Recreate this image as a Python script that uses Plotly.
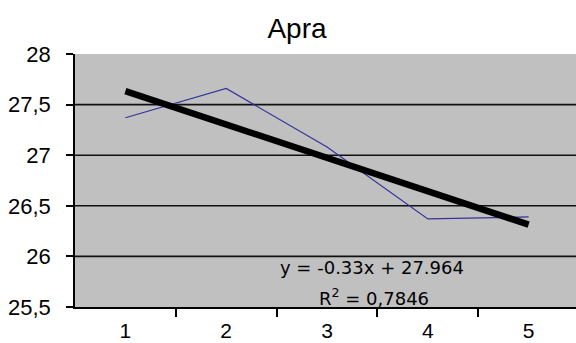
import plotly.graph_objects as go

# Monthly values for "Apra"
periods = [1, 2, 3, 4, 5]
values = [27.37, 27.66, 27.08, 26.37, 26.39]

# Linear trend as reported in the equation label
slope = -0.33
intercept = 27.964
r_squared = "0,7846"

y_ticks = [25.5, 26, 26.5, 27, 27.5, 28]
grid_levels = [26, 26.5, 27, 27.5]
x_labels = ["1", "2", "3", "4", "5"]

trend_y = [slope * x + intercept for x in periods]

W, H = 576, 343
L, T, B = 75, 54, 36

fig = go.Figure()

fig.add_trace(go.Scatter(
    x=periods, y=values, mode="lines",
    line=dict(color="#33339a", width=1.2),
    showlegend=False, hoverinfo="skip",
))

fig.add_trace(go.Scatter(
    x=[periods[0], periods[-1]], y=[trend_y[0], trend_y[-1]], mode="lines",
    line=dict(color="black", width=6.5),
    showlegend=False, hoverinfo="skip",
))

for g in grid_levels:
    fig.add_shape(type="line", xref="paper", x0=0, x1=1, yref="y", y0=g, y1=g,
                  line=dict(color="#111111", width=1.6), layer="below")

label_font = dict(family="Liberation Sans, Arial, sans-serif", size=21, color="black")

fig.update_layout(
    width=W, height=H,
    margin=dict(l=L, r=0, t=T, b=B, autoexpand=False),
    paper_bgcolor="white",
    plot_bgcolor="#c0c0c0",
    separators=",.",
    title=dict(
        text="Apra",
        font=dict(family="Liberation Sans, Arial, sans-serif", size=28, color="black"),
        xref="container", yref="container",
        x=297 / W, xanchor="center",
        y=1 - 28 / H, yanchor="middle",
    ),
    xaxis=dict(
        range=[0.5, 5.47], automargin=False,
        tickmode="array", tickvals=periods, ticktext=x_labels,
        ticks="", showgrid=False, zeroline=False,
        showline=True, linecolor="black", linewidth=1.5,
        tickfont=label_font,
        ticklabelstandoff=4,
        minor=dict(tickmode="array", tickvals=[1.5, 2.5, 3.5, 4.5],
                   ticks="outside", ticklen=8, tickcolor="black", tickwidth=1.5,
                   showgrid=False),
    ),
    yaxis=dict(
        range=[25.5, 28], automargin=False,
        tickmode="array", tickvals=y_ticks,
        ticks="outside", ticklen=7, tickcolor="black", tickwidth=1.5,
        showgrid=False, zeroline=False,
        showline=True, linecolor="black", linewidth=1.5,
        tickfont=dict(label_font, size=22),
        ticklabelstandoff=11,
    ),
)

eq_font = dict(family="DejaVu Sans, sans-serif", size=18, color="black")
fig.add_annotation(
    text=f"y = {slope:.2f}x + {intercept:.3f}",
    xref="paper", yref="paper", x=(372 - L) / (W - L), y=(307 - 267) / (H - T - B),
    xanchor="center", yanchor="middle", showarrow=False, font=eq_font,
)
fig.add_annotation(
    text=f"R<sup>2</sup> = {r_squared}",
    xref="paper", yref="paper", x=(374 - L) / (W - L), y=(307 - 297) / (H - T - B),
    xanchor="center", yanchor="middle", showarrow=False, font=eq_font,
)

fig.write_html("out.html")
